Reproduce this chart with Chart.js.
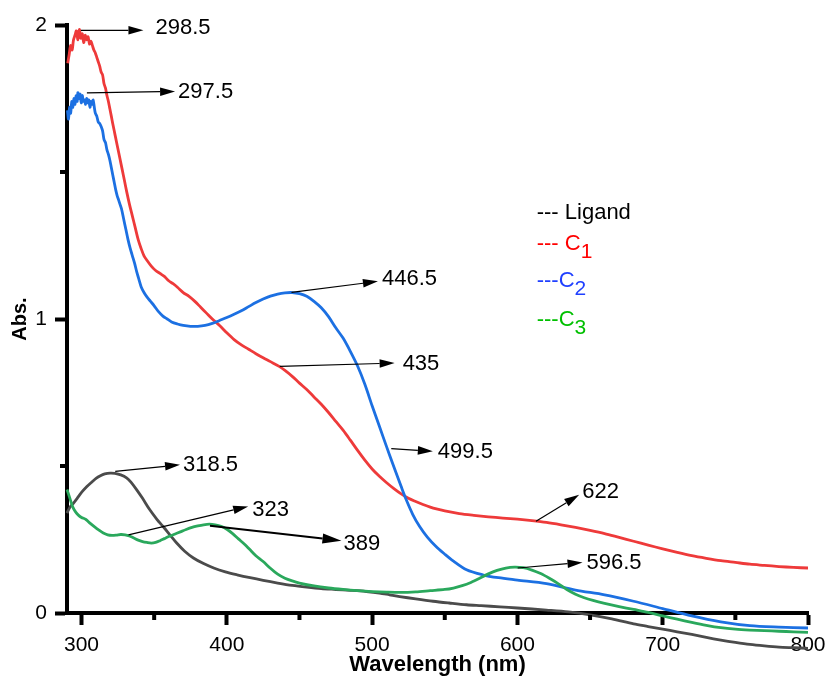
<!DOCTYPE html>
<html>
<head>
<meta charset="utf-8">
<script src="https://cdn.jsdelivr.net/npm/chart.js@4.4.1/dist/chart.umd.min.js"></script>
<style>
  html, body { margin: 0; padding: 0; background: #fff; }
  canvas { display: block; }
</style>
</head>
<body>
<canvas id="c" width="828" height="678" style="width:828px;height:678px"></canvas>
<script>
// ---------------- DATA ----------------
const seriesNames = ['Ligand', 'C1', 'C2', 'C3'];
const xTickValues = [300, 400, 500, 600, 700, 800];
const xMinorTicks = [350, 450, 550, 650, 750];
const yTickValues = [0, 1, 2];
const yMinorTicks = [0.5, 1.5];

const ligandWl = [290,292,294.5,297,300,303.7,307,310,313,316,319.7,323,327,331,334,338,342,347,352,356,361,365.5,371,377,384,391,399,407,416,425,435,445,455,465,475,485,496,505,512,519,530,542,553,565,575,588,600,620,635,650,665,680,690,700,710,720,730,740,750,760,770,780,790,800];
const ligandAbs = [0.34,0.36,0.374,0.39,0.41,0.43,0.445,0.458,0.467,0.473,0.476,0.475,0.47,0.46,0.445,0.419,0.39,0.351,0.318,0.295,0.265,0.238,0.21,0.187,0.168,0.153,0.14,0.13,0.12,0.111,0.102,0.094,0.088,0.083,0.08,0.077,0.073,0.068,0.062,0.056,0.048,0.04,0.034,0.028,0.025,0.021,0.017,0.01,0.004,-0.006,-0.02,-0.037,-0.046,-0.055,-0.064,-0.073,-0.083,-0.092,-0.1,-0.107,-0.112,-0.116,-0.118,-0.12];

const c1Wl = [290.5,291.5,292.5,293.5,294.5,295.5,296.5,297.5,298.5,299.5,300.5,301.5,302.5,303.5,304.5,305.5,306.5,307.5,308.5,309.5,310.5,311.5,312.5,313.5,314.5,315.5,316.5,317.5,318.5,319.5,320.5,321.5,322.5,323.5,324.5,325.5,326.5,328,329.5,331,333,335,337,339,341,343,345,348,351,354,357,360,363,366,370,374,378,382,386,390,395,400,405,410,415,420,425,430,436,440,445,450,455,460,465,470,475,480,485,490,495,500,505,510,515,520,525,530,535,540,545,550,560,570,580,590,600,610,620,630,640,650,660,670,680,690,700,710,720,730,740,750,760,770,780,790,800];
const c1Abs = [1.87,1.90,1.93,1.915,1.95,1.965,1.98,1.95,1.985,1.955,1.97,1.94,1.965,1.95,1.96,1.935,1.945,1.93,1.915,1.905,1.89,1.875,1.86,1.84,1.83,1.80,1.785,1.76,1.74,1.715,1.69,1.664,1.64,1.616,1.592,1.568,1.544,1.508,1.472,1.435,1.39,1.35,1.31,1.27,1.24,1.215,1.20,1.18,1.165,1.155,1.145,1.13,1.12,1.108,1.09,1.077,1.06,1.04,1.02,1.0,0.978,0.953,0.93,0.912,0.897,0.882,0.868,0.855,0.839,0.825,0.805,0.782,0.76,0.735,0.71,0.682,0.652,0.622,0.588,0.553,0.52,0.49,0.465,0.443,0.423,0.405,0.39,0.379,0.369,0.36,0.353,0.347,0.338,0.332,0.327,0.323,0.319,0.314,0.308,0.30,0.291,0.281,0.27,0.257,0.244,0.231,0.218,0.206,0.195,0.186,0.178,0.172,0.166,0.162,0.158,0.155,0.153];

const c2Wl = [290.3,291,291.8,292.5,293.3,294,294.8,295.5,296.3,297,297.5,298.3,299,299.8,300.5,301.3,302,302.8,303.5,304.3,305,305.8,306.5,307.3,308,308.8,309.5,310.5,311.5,312.5,313.5,314.5,315.5,316.5,317.5,318.5,319.5,320.5,321.5,322.5,323.5,324.5,325.5,326.5,327.5,329,330.5,332,333.5,335,336.5,338,339.5,341,343,345,347.5,350,353,356,359,362,366,370,375,380,385,390,395,400,405,410,415,420,425,430,435,440,445,450,455,460,465,470,475,480,485,490,495,500,505,510,514,520,523.5,528,532.6,538,544,550,555,565,576,587,600,620,640,660,680,700,720,740,760,780,800];
const c2Abs = [1.71,1.68,1.72,1.70,1.74,1.72,1.75,1.73,1.76,1.74,1.77,1.75,1.765,1.735,1.76,1.74,1.745,1.73,1.75,1.735,1.745,1.72,1.74,1.73,1.745,1.72,1.70,1.69,1.67,1.665,1.655,1.64,1.61,1.60,1.575,1.56,1.54,1.515,1.49,1.465,1.44,1.42,1.405,1.39,1.375,1.34,1.305,1.27,1.24,1.215,1.19,1.16,1.135,1.11,1.09,1.075,1.06,1.045,1.025,1.01,1.0,0.99,0.983,0.978,0.975,0.975,0.978,0.985,0.995,1.005,1.016,1.028,1.042,1.056,1.068,1.078,1.085,1.089,1.09,1.086,1.077,1.06,1.038,1.008,0.97,0.935,0.89,0.84,0.778,0.705,0.635,0.565,0.51,0.43,0.385,0.335,0.295,0.258,0.226,0.2,0.18,0.147,0.13,0.12,0.112,0.1,0.078,0.062,0.04,0.015,-0.01,-0.03,-0.043,-0.048,-0.051];

const c3Wl = [290,292,294,296,298,300,303,306,309,312,315,318,321,324,327,330,333,336,339,342,345,348,351,354,357,360,364,368,372,376,380,384,388,392,396,400,404,408,412,416,420,425,430,435,440,445,450,460,470,480,490,500,510,520,530,540,550,556,562,568,574,580,586,592,598,604,610,616,622,628,634,640,646,652,660,670,680,690,700,710,720,730,740,750,760,770,780,790,800];
const c3Abs = [0.42,0.39,0.36,0.343,0.332,0.325,0.318,0.305,0.293,0.282,0.272,0.266,0.264,0.265,0.267,0.266,0.262,0.255,0.248,0.243,0.24,0.238,0.24,0.246,0.253,0.26,0.268,0.276,0.284,0.291,0.296,0.30,0.302,0.30,0.295,0.285,0.27,0.252,0.235,0.215,0.195,0.175,0.152,0.132,0.118,0.109,0.102,0.092,0.085,0.08,0.076,0.073,0.071,0.07,0.072,0.076,0.08,0.085,0.093,0.104,0.118,0.133,0.145,0.153,0.156,0.154,0.146,0.134,0.118,0.10,0.08,0.064,0.052,0.043,0.033,0.022,0.012,0.002,-0.01,-0.021,-0.032,-0.042,-0.05,-0.055,-0.058,-0.06,-0.062,-0.064,-0.066];

// annotation arrows (data coordinates) and their texts
const annotLabels = ['298.5','297.5','446.5','435','499.5','622','596.5','318.5','323','389'];
const annotFromX = [299.6, 303.7, 444.5, 436.5, 513.2, 612.8, 600.2, 323.2, 332.3, 388.4];
const annotFromY = [1.982, 1.769, 1.0905, 0.839, 0.559, 0.312, 0.153, 0.482, 0.266, 0.297];
const annotToX = [342.6, 364.4, 504, 515.5, 541.8, 642.5, 644.8, 367.8, 414.7, 478.9];
const annotToY = [1.982, 1.774, 1.128, 0.850, 0.55, 0.402, 0.172, 0.504, 0.3626, 0.246];

// ---------------- STYLE ----------------
const FONT = "'Liberation Sans', Arial, Helvetica, sans-serif";
const lineColors = ['rgb(75,75,75)', 'rgb(238,58,58)', 'rgb(28,112,226)', 'rgb(42,168,92)'];
const legendColors = ['#000000', '#ff0000', '#2040ff', '#00c000'];
const labelNudges = [[12,-2],[3,0],[4,-2],[8,1],[5,1],[3,-3],[4,1],[3,0],[4,4],[2,3]];
const arrowWidths = [1.2,1.2,1.2,1.2,1.2,1.2,1.2,1.2,1.2,2];

function pts(xs, ys) { return xs.map((x, i) => ({ x: x, y: ys[i] })); }

const wlArrays = [ligandWl, c1Wl, c2Wl, c3Wl];
const absArrays = [ligandAbs, c1Abs, c2Abs, c3Abs];

const drawOrder = [3, 2, 1, 0];
const datasets = drawOrder.map(i => ({
  label: seriesNames[i],
  data: pts(wlArrays[i], absArrays[i]),
  borderColor: lineColors[i],
  borderWidth: 2.8,
  pointRadius: 0,
  tension: 0.3,
  fill: false,
  clip: false
}));

const extras = {
  id: 'extras',
  afterDatasetsDraw(chart) {
    const { ctx, scales: { x, y } } = chart;
    ctx.save();
    // minor ticks
    ctx.strokeStyle = '#000';
    ctx.lineWidth = 4;
    const bottom = y.getPixelForValue(0);
    xMinorTicks.forEach(v => {
      const px = x.getPixelForValue(v);
      ctx.beginPath(); ctx.moveTo(px, bottom + 2); ctx.lineTo(px, bottom + 7); ctx.stroke();
    });
    const left = x.getPixelForValue(290);
    yMinorTicks.forEach(v => {
      const py = y.getPixelForValue(v);
      ctx.beginPath(); ctx.moveTo(left - 2, py); ctx.lineTo(left - 7, py); ctx.stroke();
    });
    // arrows
    ctx.fillStyle = '#000';
    ctx.strokeStyle = '#000';
    annotLabels.forEach((t, i) => {
      const x1 = x.getPixelForValue(annotFromX[i]), y1 = y.getPixelForValue(annotFromY[i]);
      const x2 = x.getPixelForValue(annotToX[i]), y2 = y.getPixelForValue(annotToY[i]);
      const ang = Math.atan2(y2 - y1, x2 - x1);
      const hl = arrowWidths[i] > 1.5 ? 19 : 15;
      const hw = arrowWidths[i] > 1.5 ? 5 : 4.3;
      const bx = x2 - hl * Math.cos(ang), by = y2 - hl * Math.sin(ang);
      ctx.lineWidth = arrowWidths[i];
      ctx.beginPath(); ctx.moveTo(x1, y1); ctx.lineTo(bx, by); ctx.stroke();
      ctx.beginPath();
      ctx.moveTo(x2, y2);
      ctx.lineTo(bx + hw * Math.sin(ang), by - hw * Math.cos(ang));
      ctx.lineTo(bx - hw * Math.sin(ang), by + hw * Math.cos(ang));
      ctx.closePath(); ctx.fill();
      ctx.font = '22px ' + FONT;
      ctx.textAlign = 'left';
      ctx.textBaseline = 'middle';
      ctx.fillText(t, x2 + labelNudges[i][0], y2 + labelNudges[i][1]);
    });
    // legend (text style)
    const lx = 536.7;
    const rows = [213, 244, 281, 320];
    ctx.font = '22px ' + FONT;
    ctx.textBaseline = 'middle';
    ctx.textAlign = 'left';
    ctx.fillStyle = legendColors[0];
    ctx.fillText('--- Ligand', lx, rows[0]);
    const prefixes = ['--- C', '---C', '---C'];
    const subs = ['1', '2', '3'];
    for (let k = 0; k < 3; k++) {
      ctx.fillStyle = legendColors[k + 1];
      ctx.font = '22px ' + FONT;
      ctx.fillText(prefixes[k], lx, rows[k + 1]);
      const w = ctx.measureText(prefixes[k]).width;
      ctx.font = '21px ' + FONT;
      ctx.fillText(subs[k], lx + w, rows[k + 1] + 8);
    }
    ctx.restore();
  }
};

new Chart(document.getElementById('c').getContext('2d'), {
  type: 'line',
  data: { datasets: datasets },
  options: {
    responsive: false,
    animation: false,
    layout: { padding: { top: 25, right: 20, left: 0, bottom: 0 } },
    plugins: { legend: { display: false }, tooltip: { enabled: false } },
    scales: {
      x: {
        type: 'linear', min: 290, max: 800,
        afterBuildTicks: s => { s.ticks = xTickValues.map(v => ({ value: v })); },
        afterFit: s => { s.height = 65; s.paddingLeft = 0; s.paddingRight = 0; },
        grid: { drawOnChartArea: false, drawTicks: true, tickLength: 12, tickWidth: 4, tickColor: '#000' },
        border: { display: true, width: 4, color: '#000' },
        ticks: { font: { size: 21, family: FONT }, color: '#000', padding: 8, maxRotation: 0, autoSkip: false },
        title: { display: true, text: 'Wavelength (nm)', color: '#000', font: { size: 22, weight: 'bold', family: FONT }, padding: { top: 0, bottom: 0 } }
      },
      y: {
        type: 'linear', min: 0, max: 2,
        afterBuildTicks: s => { s.ticks = yTickValues.map(v => ({ value: v })); },
        afterFit: s => { s.width = 67; s.paddingTop = 0; s.paddingBottom = 0; },
        grid: { drawOnChartArea: false, drawTicks: true, tickLength: 12, tickWidth: 4, tickColor: '#000' },
        border: { display: true, width: 4, color: '#000' },
        ticks: { font: { size: 21, family: FONT }, color: '#000', padding: 8, callback: v => String(v) },
        title: { display: true, text: 'Abs.', color: '#000', font: { size: 20, weight: 'bold', family: FONT }, padding: { top: 8, bottom: 0 } }
      }
    }
  },
  plugins: [extras]
});
</script>
</body>
</html>
